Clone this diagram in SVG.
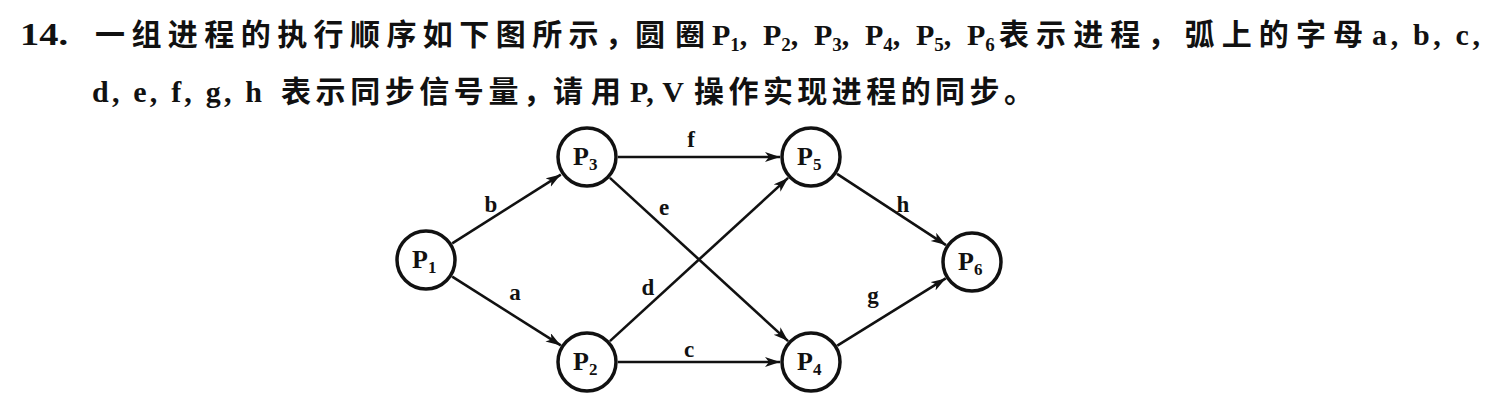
<svg xmlns="http://www.w3.org/2000/svg" width="1494" height="415" viewBox="0 0 1494 415">
<style>
.lat{font-family:"Liberation Serif","Times New Roman",serif;font-weight:bold;fill:#111}
.cjk{font-family:"Noto Sans CJK SC","Noto Sans CJK TC",sans-serif;font-weight:bold;fill:#111;font-size:30px}
.t{font-size:30px}
.sub{font-size:19px}
.node circle{fill:#fff;stroke:#111;stroke-width:3.5}
.nl{font-family:"Liberation Serif","Times New Roman",serif;font-weight:bold;font-size:26px;fill:#111}
.ns{font-size:17px}
.edge{stroke:#111;stroke-width:2.6;fill:none;marker-end:url(#arr)}
.el{font-family:"Liberation Serif","Times New Roman",serif;font-weight:bold;font-size:23px;fill:#111;text-anchor:middle}
</style>
<defs>
<marker id="arr" markerUnits="userSpaceOnUse" markerWidth="16" markerHeight="12" refX="15" refY="5" orient="auto">
<path d="M0,0 L15,5 L0,10 L4,5 Z" fill="#111"/>
</marker>
</defs>
<rect width="1494" height="415" fill="#fff"/>
<g id="title">
<text class="lat" x="20" y="45" font-size="31" textLength="48" lengthAdjust="spacingAndGlyphs">14.</text>
<text class="cjk" x="95" y="45" textLength="540">一组进程的执行顺序如下图所示，</text>
<text class="cjk" x="635" y="45" textLength="70">圆圈</text>
<text class="lat t" x="712" y="45">P<tspan class="sub" dy="6">1</tspan><tspan dy="-6">,</tspan></text>
<text class="lat t" x="763" y="45">P<tspan class="sub" dy="6">2</tspan><tspan dy="-6">,</tspan></text>
<text class="lat t" x="814" y="45">P<tspan class="sub" dy="6">3</tspan><tspan dy="-6">,</tspan></text>
<text class="lat t" x="865" y="45">P<tspan class="sub" dy="6">4</tspan><tspan dy="-6">,</tspan></text>
<text class="lat t" x="916" y="45">P<tspan class="sub" dy="6">5</tspan><tspan dy="-6">,</tspan></text>
<text class="lat t" x="967" y="45">P<tspan class="sub" dy="6">6</tspan></text>
<text class="cjk" x="999" y="45" textLength="364">表示进程，弧上的字母</text>
<text class="lat t" x="1372" y="45" textLength="108">a, b, c,</text>
<text class="lat t" x="92" y="102" textLength="170">d, e, f, g, h</text>
<text class="cjk" x="281" y="102" textLength="272">表示同步信号量，</text>
<text class="cjk" x="553" y="102" textLength="68">请用</text>
<text class="lat t" x="630" y="102" textLength="54">P, V</text>
<text class="cjk" x="694" y="102" textLength="340">操作实现进程的同步。</text>
</g>
<g id="connectors">
<line class="edge" x1="452.2" y1="243.4" x2="560.8" y2="174.6"/>
<line class="edge" x1="452.2" y1="276.6" x2="560.8" y2="345.4"/>
<line class="edge" x1="618" y1="157" x2="780" y2="157"/>
<line class="edge" x1="618" y1="362" x2="780" y2="362"/>
<line class="edge" x1="609.9" y1="177.9" x2="788.1" y2="341.1"/>
<line class="edge" x1="609.9" y1="341.1" x2="788.1" y2="177.9"/>
<line class="edge" x1="837" y1="173.9" x2="946" y2="245.1"/>
<line class="edge" x1="837.3" y1="345.6" x2="945.7" y2="278.4"/>
<text class="el" x="491" y="212">b</text>
<text class="el" x="515" y="300">a</text>
<text class="el" x="691" y="147">f</text>
<text class="el" x="689" y="357">c</text>
<text class="el" x="664" y="215">e</text>
<text class="el" x="648" y="295">d</text>
<text class="el" x="903" y="212">h</text>
<text class="el" x="873" y="303">g</text>
</g>
<g id="P1" class="node"><circle cx="426" cy="260" r="29"/><text class="nl" x="412" y="268">P<tspan class="ns" dy="5">1</tspan></text></g>
<g id="P3" class="node"><circle cx="587" cy="157" r="29"/><text class="nl" x="573" y="165">P<tspan class="ns" dy="5">3</tspan></text></g>
<g id="P2" class="node"><circle cx="587" cy="362" r="29"/><text class="nl" x="573" y="370">P<tspan class="ns" dy="5">2</tspan></text></g>
<g id="P5" class="node"><circle cx="811" cy="157" r="29"/><text class="nl" x="797" y="165">P<tspan class="ns" dy="5">5</tspan></text></g>
<g id="P4" class="node"><circle cx="811" cy="362" r="29"/><text class="nl" x="797" y="370">P<tspan class="ns" dy="5">4</tspan></text></g>
<g id="P6" class="node"><circle cx="972" cy="262" r="29"/><text class="nl" x="958" y="270">P<tspan class="ns" dy="5">6</tspan></text></g>
</svg>
